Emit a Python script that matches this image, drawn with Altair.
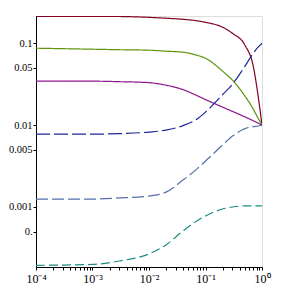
import altair as alt
import pandas as pd

# shared x positions (log scale)
x_vals = [1e-4, 1e-3, 3e-3, 0.01, 0.02, 0.04, 0.07, 0.1, 0.2, 0.3, 0.5, 0.7, 0.85, 0.95, 1.0]

red    = [0.213, 0.213, 0.212, 0.207, 0.202, 0.196, 0.188, 0.180, 0.157, 0.132, 0.0945, 0.0525, 0.0232, 0.0132, 0.0100]
green  = [0.0869, 0.0845, 0.0833, 0.0822, 0.0799, 0.0777, 0.0714, 0.0656, 0.0456, 0.0354, 0.0226, 0.0157, 0.0122, 0.0107, 0.0100]
purple = [0.0344, 0.0344, 0.0339, 0.0330, 0.0307, 0.0271, 0.0230, 0.0205, 0.0166, 0.0147, 0.0126, 0.0113, 0.0106, 0.0102, 0.0100]
navy   = [0.00776, 0.00776, 0.00787, 0.00822, 0.00869, 0.00986, 0.0118, 0.0144, 0.0235, 0.0316, 0.0525, 0.0755, 0.0894, 0.0960, 0.100]
slate  = [0.00125, 0.00125, 0.00129, 0.00136, 0.00152, 0.00213, 0.0029, 0.00364, 0.0057, 0.00735, 0.00906, 0.0096, 0.00975, 0.0099, 0.0100]
teal   = [0.000194, 0.000199, 0.000219, 0.000267, 0.000344, 0.00051, 0.000675, 0.000777, 0.000945, 0.00100, 0.00103, 0.00103, 0.00103, 0.00103, 0.00103]

series_names = ["red", "green", "purple", "navy", "slate", "teal"]
series_vals = [red, green, purple, navy, slate, teal]
series_colors = ["#82001e", "#5e9410", "#8e148e", "#1c2a96", "#5470aa", "#1b8c7e"]
series_dash = [[1, 0], [1, 0], [1, 0], [14, 4], [12, 4], [9, 4]]

y_tick_values = [0.0005, 0.001, 0.005, 0.01, 0.05, 0.1]
y_tick_labels = ["0.", "0.001", "0.005", "0.01", "0.05", "0.1"]

x_major = [1e-4, 1e-3, 1e-2, 1e-1, 1.0]
x_major_labels = ["10⁻⁴", "10⁻³", "10⁻²", "10⁻¹", "10⁰"]
x_minor = [m * d for d in [1e-4, 1e-3, 1e-2, 1e-1] for m in range(2, 10)]

rows = []
for name, vals in zip(series_names, series_vals):
    for x, y in zip(x_vals, vals):
        rows.append({"x": x, "y": y, "s": name})
df = pd.DataFrame(rows)

y_expr = " : ".join(
    f"datum.value == {v} ? '{l}'" for v, l in zip(y_tick_values, y_tick_labels)
) + " : ''"
x_expr = " : ".join(
    f"abs(datum.value - {v}) < {v}*1e-6 ? '{l}'" for v, l in zip(x_major, x_major_labels)
) + " : ''"

layers = []
for name, col, dash in zip(series_names, series_colors, series_dash):
    layers.append(
        alt.Chart(df[df.s == name])
        .mark_line(color=col, strokeWidth=1.2, strokeDash=dash, interpolate="monotone", clip=True)
        .encode(
            x=alt.X("x:Q", scale=alt.Scale(type="log", domain=[1e-4, 1.0], nice=False),
                    axis=alt.Axis(values=x_major + x_minor, labelExpr=x_expr, title=None,
                                  grid=False, domainColor="black", tickColor="black",
                                  tickSize=3, labelFont="Liberation Serif", labelFontSize=12,
                                  labelColor="black", labelPadding=3, labelFlush=False,
                                  labelOverlap=False)),
            y=alt.Y("y:Q", scale=alt.Scale(type="log", domain=[1.85e-4, 0.215], nice=False),
                    axis=alt.Axis(values=y_tick_values, labelExpr=y_expr, title=None,
                                  grid=False, domainColor="black", tickColor="black",
                                  tickSize=3, labelFont="Liberation Serif", labelFontSize=10.5,
                                  labelColor="black", labelPadding=1, labelOverlap=False)),
        )
    )

chart = (
    alt.layer(*layers)
    .properties(
        width=226,
        height=251,
        autosize=alt.AutoSizeParams(type="none"),
        padding={"left": 28, "top": 8, "right": 10, "bottom": 28},
    )
    .configure_view(stroke=None)
    .configure(background="white")
)

chart.save("out.html", embed_options={"renderer": "svg", "actions": False})
